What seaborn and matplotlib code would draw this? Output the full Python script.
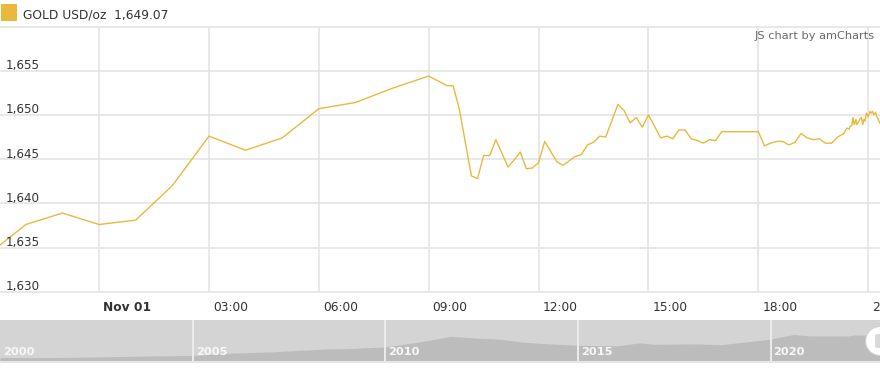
import matplotlib
matplotlib.use("Agg")
import matplotlib.pyplot as plt
import matplotlib.dates as mdates
import matplotlib.transforms as mtrans
from matplotlib.patches import Rectangle, Ellipse, FancyBboxPatch
import numpy as np
import pandas as pd
import seaborn as sns

# ---------------- data ----------------
series_name = "GOLD USD/oz"
last_price = "1,649.07"

times = [
    "2022-10-31 21:00", "2022-10-31 22:00", "2022-10-31 23:00",
    "2022-11-01 00:00", "2022-11-01 01:00", "2022-11-01 02:00", "2022-11-01 03:00",
    "2022-11-01 04:00", "2022-11-01 05:00", "2022-11-01 06:00", "2022-11-01 07:00",
    "2022-11-01 08:00", "2022-11-01 09:00", "2022-11-01 09:30", "2022-11-01 09:40",
    "2022-11-01 09:50", "2022-11-01 10:10", "2022-11-01 10:20", "2022-11-01 10:30",
    "2022-11-01 10:40", "2022-11-01 10:50", "2022-11-01 11:10", "2022-11-01 11:20",
    "2022-11-01 11:30", "2022-11-01 11:40", "2022-11-01 11:50", "2022-11-01 12:00",
    "2022-11-01 12:10", "2022-11-01 12:30", "2022-11-01 12:40", "2022-11-01 13:00",
    "2022-11-01 13:10", "2022-11-01 13:20", "2022-11-01 13:30", "2022-11-01 13:40",
    "2022-11-01 13:50", "2022-11-01 14:10", "2022-11-01 14:20", "2022-11-01 14:30",
    "2022-11-01 14:40", "2022-11-01 14:50", "2022-11-01 15:00", "2022-11-01 15:20",
    "2022-11-01 15:30", "2022-11-01 15:40", "2022-11-01 15:50", "2022-11-01 16:00",
    "2022-11-01 16:10", "2022-11-01 16:20", "2022-11-01 16:30", "2022-11-01 16:40",
    "2022-11-01 16:50", "2022-11-01 17:00", "2022-11-01 18:00", "2022-11-01 18:10",
    "2022-11-01 18:20", "2022-11-01 18:30", "2022-11-01 18:40", "2022-11-01 18:50",
    "2022-11-01 19:00", "2022-11-01 19:10", "2022-11-01 19:20", "2022-11-01 19:30",
    "2022-11-01 19:40", "2022-11-01 19:50", "2022-11-01 20:00", "2022-11-01 20:10",
    "2022-11-01 20:20", "2022-11-01 20:25", "2022-11-01 20:29", "2022-11-01 20:30",
    "2022-11-01 20:33", "2022-11-01 20:35", "2022-11-01 20:37", "2022-11-01 20:40",
    "2022-11-01 20:41", "2022-11-01 20:44", "2022-11-01 20:47", "2022-11-01 20:49",
    "2022-11-01 20:51", "2022-11-01 20:53", "2022-11-01 20:55", "2022-11-01 20:57",
    "2022-11-01 21:00", "2022-11-01 21:03", "2022-11-01 21:05", "2022-11-01 21:07",
    "2022-11-01 21:09", "2022-11-01 21:12", "2022-11-01 21:14", "2022-11-01 21:16",
    "2022-11-01 21:19",
]
prices = [
    1634.3, 1637.6, 1638.9,
    1637.6, 1638.1, 1642.0, 1647.6,
    1646.0, 1647.4, 1650.7, 1651.4,
    1653.0, 1654.4, 1653.3, 1653.3,
    1650.7, 1643.1, 1642.8, 1645.4,
    1645.4, 1647.2, 1644.1, 1644.9,
    1645.8, 1643.9, 1644.0, 1644.6,
    1647.0, 1644.7, 1644.3, 1645.3,
    1645.5, 1646.6, 1646.9, 1647.6,
    1647.5, 1651.2, 1650.5, 1649.1,
    1649.7, 1648.6, 1650.0, 1647.4,
    1647.6, 1647.3, 1648.3, 1648.3,
    1647.3, 1647.1, 1646.8, 1647.2,
    1647.1, 1648.1, 1648.1, 1646.5,
    1646.8, 1647.0, 1647.0, 1646.6,
    1646.9, 1647.9, 1647.4, 1647.2,
    1647.3, 1646.8, 1646.8, 1647.5,
    1647.9, 1648.5, 1648.4, 1648.7,
    1648.8, 1649.7, 1648.9, 1649.5,
    1648.9, 1649.2, 1649.6, 1649.7,
    1648.9, 1649.5, 1649.3, 1650.2,
    1649.8, 1650.4, 1650.2, 1650.4,
    1650.0, 1650.3, 1649.8, 1649.6,
    1649.07,
]

y_ticks = [1635, 1640, 1645, 1650, 1655]
y_tick_labels = ["1,635", "1,640", "1,645", "1,650", "1,655"]
x_tick_times = ["2022-11-01 00:00", "2022-11-01 03:00", "2022-11-01 06:00",
                "2022-11-01 09:00", "2022-11-01 12:00", "2022-11-01 15:00",
                "2022-11-01 18:00", "2022-11-01 21:00"]
x_tick_labels = ["Nov 01", "03:00", "06:00", "09:00", "12:00", "15:00", "18:00", "21:00"]

# scrollbar overview (long-term history)
hist_years = [2000.0, 2001.0, 2002.0, 2003.0, 2004.0, 2005.0, 2006.0, 2007.0,
              2007.8, 2008.5, 2009.0, 2010.0, 2011.0, 2011.7, 2012.5, 2013.0,
              2013.5, 2014.0, 2015.0, 2016.0, 2016.6, 2017.0, 2018.0, 2018.7,
              2019.0, 2019.7, 2020.0, 2020.6, 2021.0, 2022.0, 2022.2, 2022.84]
hist_values = [290, 275, 300, 350, 400, 435, 600, 680,
               800, 900, 920, 1040, 1450, 1800, 1650, 1600,
               1400, 1300, 1160, 1120, 1330, 1230, 1260, 1200,
               1290, 1500, 1600, 1930, 1830, 1820, 1900, 1880]
hist_marks = [2000, 2005, 2010, 2015, 2020]

# ---------------- style ----------------
sns.set_theme(style="white")
plt.rcParams["font.family"] = ["DejaVu Sans"]

W, H = 880, 368
fig = plt.figure(figsize=(W / 100, H / 100), dpi=100)
fig.patch.set_facecolor("white")


def box(x0, y0, x1, y1):
    return [x0 / W, 1 - y1 / H, (x1 - x0) / W, (y1 - y0) / H]


gold = "#E8B93E"
grid_c = "#e4e4e4"
txt_c = "#333333"

# ---------------- main chart ----------------
ax = fig.add_axes(box(0, 26.5, W, 291.7))
df = pd.DataFrame({"time": pd.to_datetime(times), "price": prices})
sns.lineplot(data=df, x="time", y="price", ax=ax, color=gold, linewidth=1.0)

ax.set_ylim(1630, 1660)
ax.set_xlim(pd.Timestamp("2022-10-31 21:17:40"), pd.Timestamp("2022-11-01 21:19:20"))
ax.set_xlabel("")
ax.set_ylabel("")
xt = pd.to_datetime(x_tick_times)
ax.set_xticks(xt)
ax.set_yticks(y_ticks)
ax.set_xticklabels([])
ax.set_yticklabels([])
ax.tick_params(length=0)
ax.grid(True, color=grid_c, linewidth=1.2)
ax.set_facecolor("none")
for s in ["left", "right"]:
    ax.spines[s].set_visible(False)
for s in ["top", "bottom"]:
    ax.spines[s].set_color(grid_c)
    ax.spines[s].set_linewidth(1.2)

# y labels inside
ytr = mtrans.blended_transform_factory(ax.transAxes, ax.transData) + \
    mtrans.ScaledTranslation(0, 1.5 / 100, fig.dpi_scale_trans)
for v, lab in zip(y_ticks + [1630], y_tick_labels + ["1,630"]):
    ax.text(6 / W, v, lab, transform=ytr, ha="left", va="baseline",
            fontsize=8.6, color=txt_c)

# x labels
xtr = mtrans.blended_transform_factory(ax.transData, ax.transAxes) + \
    mtrans.ScaledTranslation(4 / 100, 0, fig.dpi_scale_trans)
for t, lab in zip(xt, x_tick_labels):
    ax.text(mdates.date2num(t), -(307.5 - 291.7) / (291.7 - 26.5), lab,
            transform=xtr, ha="left", va="center", fontsize=8.8,
            color=txt_c, fontweight="bold" if lab.startswith("Nov") else "normal",
            clip_on=False)

# ---------------- scrollbar ----------------
sax = fig.add_axes(box(0, 320, W, 361.5))
sax.set_facecolor("#d4d4d4")
sax.fill_between(hist_years, hist_values, 0, color="#bcbcbc", linewidth=0)
sax.set_xlim(2000, 2022.84)
sax.set_ylim(0, 2970)
sax.set_xticks([])
sax.set_yticks([])
for s in ["left", "right", "top"]:
    sax.spines[s].set_visible(False)
sax.spines["bottom"].set_color("#e6e6e6")
sax.spines["bottom"].set_linewidth(1.5)
for yr in hist_marks[1:]:
    sax.axvline(yr, color="#ececec", linewidth=1.4)
ltr = sax.transData + mtrans.ScaledTranslation(3 / 100, 0, fig.dpi_scale_trans)
for yr in hist_marks:
    sax.text(yr, 0.24, str(yr), transform=mtrans.blended_transform_factory(ltr, sax.transAxes),
             ha="left", va="center", fontsize=8.2, fontweight="bold", color="#f7f7f7")

# drag handle
fig.add_artist(Ellipse((880 / W, 1 - 341 / H), 29 / W, 29 / H, transform=fig.transFigure,
                       facecolor="white", edgecolor="#d0d0d0", linewidth=0.8))
fig.add_artist(FancyBboxPatch((875 / W, 1 - 348 / H), 8 / W, 14 / H,
                              boxstyle="round,pad=0,rounding_size=0.004",
                              transform=fig.transFigure, facecolor="#d9d9d9",
                              edgecolor="none"))

# ---------------- legend & credit ----------------
fig.add_artist(Rectangle((1 / W, 1 - 20.7 / H), 16 / W, 16.5 / H, transform=fig.transFigure,
                         facecolor=gold, edgecolor="none"))
fig.text(22.5 / W, 1 - 14.7 / H, f"{series_name}  {last_price}", ha="left", va="center",
         fontsize=8.8, color=txt_c)
fig.text(875 / W, 1 - 36 / H, "JS chart by amCharts", ha="right", va="center",
         fontsize=8.2, color="#6a6a6a")

fig.savefig("out.png", dpi=100)
